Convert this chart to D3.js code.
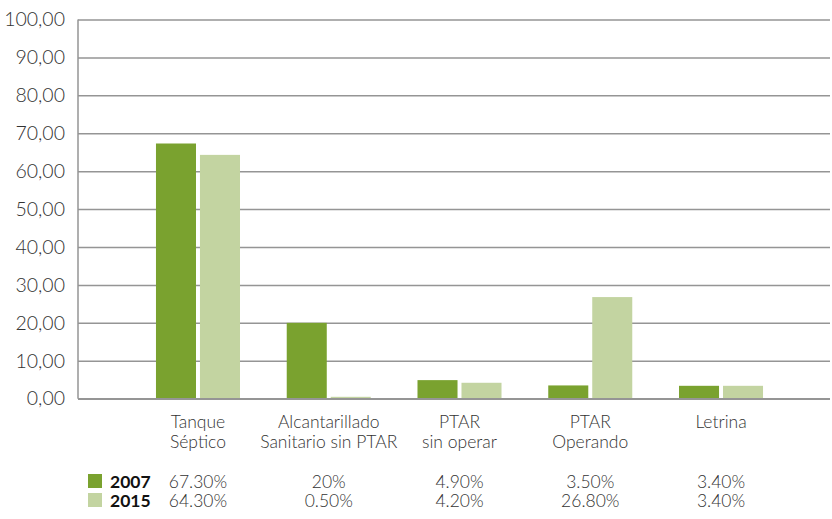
<!DOCTYPE html>
<html>
<head>
<meta charset="utf-8">
<script src="https://cdn.jsdelivr.net/npm/d3@7"></script>
<style>
  html, body { margin: 0; padding: 0; background: #fff; }
  svg { display: block; }
  text { font-family: "Lato", "Noto Sans", sans-serif; font-weight: 300; fill: #333; }
</style>
</head>
<body>
<svg id="chart" width="832" height="519"></svg>
<script>
// Sanitation systems, share of households (%)
const categories = [
  ["Tanque", "Séptico"],
  ["Alcantarillado", "Sanitario sin PTAR"],
  ["PTAR", "sin operar"],
  ["PTAR", "Operando"],
  ["Letrina"]
];
const series = ["2007", "2015"];
const values2007 = [67.3, 20, 4.9, 3.5, 3.4];
const values2015 = [64.3, 0.5, 4.2, 26.8, 3.4];
const labels2007 = ["67.30%", "20%", "4.90%", "3.50%", "3.40%"];
const labels2015 = ["64.30%", "0.50%", "4.20%", "26.80%", "3.40%"];
const yTicks = [0, 10, 20, 30, 40, 50, 60, 70, 80, 90, 100];

const colors = { "2007": "#7aa22f", "2015": "#c3d4a1" };
const gridColor = "#959595";

const svg = d3.select("#chart");
const plot = { left: 78, right: 830, top: 19.5, bottom: 398.7 };

const y = d3.scaleLinear().domain([0, 100]).range([plot.bottom, plot.top]);

const x = d3.scaleBand()
  .domain(d3.range(categories.length))
  .range([132.6, 786.4])
  .paddingInner(0.3575)
  .paddingOuter(0.17875);

const xs = d3.scaleBand()
  .domain(series)
  .range([0, x.bandwidth()])
  .paddingInner(0.09);

// Horizontal gridlines with tick labels
const yAxis = d3.axisLeft(y)
  .tickValues(yTicks)
  .tickSize(-(plot.right - plot.left))
  .tickPadding(13)
  .tickFormat(d => d3.format(".2f")(d).replace(".", ","));

const gy = svg.append("g")
  .attr("transform", `translate(${plot.left},0)`)
  .call(yAxis)
  .attr("font-family", null)
  .attr("font-size", null);
gy.select(".domain").remove();
gy.selectAll(".tick line").attr("stroke", gridColor).attr("stroke-width", 1.5);
gy.selectAll(".tick text")
  .attr("font-size", 19.5)
  .attr("fill", null)
  .style("fill", "#333");

// Left axis line
svg.append("line")
  .attr("x1", plot.left).attr("x2", plot.left)
  .attr("y1", plot.top).attr("y2", plot.bottom)
  .attr("stroke", gridColor).attr("stroke-width", 1.5);

// Bars
const rows = categories.map((c, i) => ({ i, "2007": values2007[i], "2015": values2015[i] }));
const groups = svg.append("g").selectAll("g")
  .data(rows)
  .join("g")
  .attr("transform", d => `translate(${x(d.i)},0)`);

groups.selectAll("rect")
  .data(d => series.map(s => ({ s, v: d[s] })))
  .join("rect")
  .attr("x", d => xs(d.s))
  .attr("width", xs.bandwidth())
  .attr("y", d => y(d.v))
  .attr("height", d => y(0) - y(d.v))
  .attr("fill", d => colors[d.s]);

// Baseline drawn above bars
svg.append("line")
  .attr("x1", plot.left).attr("x2", plot.right)
  .attr("y1", y(0)).attr("y2", y(0))
  .attr("stroke", gridColor).attr("stroke-width", 1.5);

// Category labels
const catText = svg.append("g").selectAll("text")
  .data(categories)
  .join("text")
  .attr("x", (d, i) => x(i) + x.bandwidth() / 2)
  .attr("y", 428)
  .attr("text-anchor", "middle")
  .attr("font-size", 17.5);
catText.selectAll("tspan")
  .data(d => d)
  .join("tspan")
  .attr("x", function () { return this.parentNode.getAttribute("x"); })
  .attr("dy", (d, j) => j === 0 ? 0 : 19.5)
  .text(d => d);

// Data table under the axis
const tableRows = [
  { s: "2007", labels: labels2007, y: 487.5 },
  { s: "2015", labels: labels2015, y: 506.5 }
];
const tr = svg.append("g").selectAll("g")
  .data(tableRows)
  .join("g");

tr.append("rect")
  .attr("x", 88)
  .attr("y", d => d.y - 13.5)
  .attr("width", 14)
  .attr("height", 14)
  .attr("fill", d => colors[d.s]);

tr.append("text")
  .attr("x", 110)
  .attr("y", d => d.y)
  .attr("font-size", 17.5)
  .style("font-weight", "bold")
  .style("fill", "#111")
  .text(d => d.s);

tr.selectAll("text.val")
  .data(d => d.labels.map((l, i) => ({ l, i, y: d.y })))
  .join("text")
  .attr("class", "val")
  .attr("x", d => x(d.i) + x.bandwidth() / 2)
  .attr("y", d => d.y)
  .attr("text-anchor", "middle")
  .attr("font-size", 17.5)
  .text(d => d.l);
</script>
</body>
</html>
